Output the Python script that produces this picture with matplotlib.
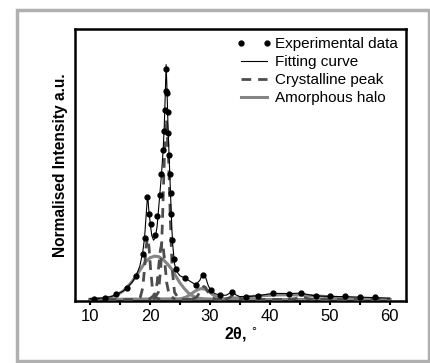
import matplotlib
matplotlib.use("Agg")
import matplotlib.pyplot as plt
from matplotlib.patches import Rectangle
from matplotlib.lines import Line2D

plt.rcParams['font.family'] = ['Liberation Sans', 'DejaVu Sans']

# experimental points (2theta, normalised intensity)
exp_x = [10.6, 12.5, 14.4, 16.2, 17.7, 18.8, 19.2, 19.55, 19.8, 20.2, 20.8, 21.2, 21.6,
         21.9, 22.2, 22.35, 22.5, 22.6, 22.7, 22.85, 22.95, 23.05, 23.15, 23.3, 23.45,
         23.55, 23.7, 24.0, 24.3, 25.9, 27.6, 28.8, 30.1, 31.7, 33.7, 36.1, 38.0, 40.6,
         43.2, 45.2, 47.7, 50.0, 52.5, 55.0, 57.6]
exp_y = [0.003, 0.008, 0.022, 0.05, 0.10, 0.19, 0.26, 0.43, 0.36, 0.32, 0.27, 0.35, 0.44,
         0.53, 0.63, 0.71, 0.80, 0.88, 0.97, 0.87, 0.79, 0.70, 0.61, 0.53, 0.45,
         0.36, 0.25, 0.17, 0.13, 0.09, 0.063, 0.105, 0.038, 0.018, 0.032, 0.012, 0.014, 0.027,
         0.025, 0.026, 0.013, 0.014, 0.016, 0.01, 0.01]

# fitting curve
fit_x = [10, 12, 13.5, 14.5, 15.5, 16.2, 17, 17.7, 18.3, 18.8, 19.1, 19.35, 19.55, 19.65,
         19.8, 20.05, 20.3, 20.6, 20.9, 21.2, 21.6, 21.9, 22.2, 22.4, 22.55, 22.7, 22.85,
         23.0, 23.2, 23.35, 23.5, 23.65, 23.8, 24.1, 24.4, 25, 25.9, 26.8, 27.6, 28.3, 28.8,
         29.2, 29.7, 30.1, 30.8, 31.7, 32.7, 33.4, 33.8, 34.3, 35, 36.1, 38, 40.5, 43.2,
         45.2, 46.5, 47.7, 50, 52.5, 55, 57.5, 60]
fit_y = [0.003, 0.006, 0.012, 0.022, 0.035, 0.05, 0.072, 0.10, 0.14, 0.20, 0.26, 0.35, 0.42, 0.43,
         0.38, 0.32, 0.27, 0.25, 0.26, 0.31, 0.43, 0.52, 0.63, 0.74, 0.86, 0.99, 0.88,
         0.74, 0.60, 0.50, 0.40, 0.30, 0.23, 0.15, 0.12, 0.10, 0.09, 0.075, 0.063, 0.08, 0.108,
         0.10, 0.06, 0.04, 0.025, 0.018, 0.018, 0.028, 0.032, 0.02, 0.012, 0.012, 0.016, 0.026, 0.025,
         0.027, 0.02, 0.015, 0.013, 0.012, 0.01, 0.008, 0.006]

# amorphous halos
halo1_x = [10, 12, 13.5, 14.5, 15.5, 16.3, 17, 17.7, 18.5, 19.2, 20, 20.8, 21.5, 22.2, 23,
           23.7, 24.4, 25, 25.7, 26.4, 27.2, 28, 29, 30, 60]
halo1_y = [0.001, 0.004, 0.01, 0.02, 0.035, 0.055, 0.075, 0.10, 0.13, 0.157, 0.176, 0.183, 0.18,
           0.168, 0.148, 0.125, 0.095, 0.07, 0.047, 0.028, 0.014, 0.006, 0.002, 0.0, 0.0]
halo2_x = [10, 25, 26, 26.8, 27.5, 28.1, 28.6, 29.2, 29.8, 30.5, 31.2, 32, 33, 60]
halo2_y = [0.0, 0.002, 0.01, 0.022, 0.035, 0.043, 0.046, 0.043, 0.034, 0.02, 0.01, 0.003, 0.0, 0.0]
halo3_x = [10, 32, 35, 38, 41, 43, 45, 48, 51, 54, 57, 60]
halo3_y = [0.0, 0.002, 0.008, 0.015, 0.019, 0.02, 0.019, 0.015, 0.009, 0.004, 0.001, 0.0]

# crystalline peaks
cryst = [
    ([10, 17.5, 18.4, 18.8, 19.1, 19.35, 19.6, 19.85, 20.1, 20.4, 20.8, 21.7],
     [0, 0, 0.01, 0.05, 0.13, 0.22, 0.26, 0.22, 0.13, 0.05, 0.01, 0]),
    ([19.8, 20.8, 21.2, 21.5, 21.75, 22.0, 22.25, 22.5, 22.8, 23.2, 24.2],
     [0, 0.02, 0.07, 0.15, 0.21, 0.24, 0.21, 0.15, 0.07, 0.02, 0]),
    ([20.6, 21.4, 21.8, 22.1, 22.4, 22.75, 23.1, 23.4, 23.7, 24.1, 24.9, 27],
     [0, 0.03, 0.13, 0.34, 0.60, 0.76, 0.60, 0.34, 0.13, 0.03, 0, 0]),
    ([27, 27.8, 28.3, 28.7, 29.0, 29.3, 29.7, 30.2, 31, 32.5],
     [0, 0.01, 0.03, 0.05, 0.055, 0.05, 0.03, 0.01, 0, 0]),
    ([32.5, 33.3, 33.7, 34.0, 34.3, 34.7, 35.5, 43],
     [0, 0.008, 0.017, 0.02, 0.017, 0.008, 0, 0]),
    ([43, 44.3, 44.9, 45.3, 45.7, 46.3, 47.5, 60],
     [0, 0.004, 0.010, 0.012, 0.010, 0.004, 0, 0]),
]

HALO = "#858585"
CRYS = "#4d4d4d"
DASH = (0, (3.5, 2.5))

fig = plt.figure(figsize=(4.31, 3.63), dpi=100)
ax = fig.add_axes([0.174, 0.171, 0.768, 0.749])

for hx, hy in [(halo1_x, halo1_y), (halo2_x, halo2_y), (halo3_x, halo3_y)]:
    ax.plot(hx, hy, color=HALO, lw=2.2, zorder=2)
for cx, cy in cryst:
    ax.plot(cx, cy, color=CRYS, lw=2.0, ls=DASH, zorder=3)
ax.plot(fit_x, fit_y, color="black", lw=0.8, zorder=4)
ax.plot(exp_x, exp_y, "o", color="black", ms=3.5, zorder=5)

ax.set_xlim(7.5, 62.7)
ax.set_ylim(-0.006, 1.14)
ax.set_xticks([10, 20, 30, 40, 50, 60])
ax.set_xticks([15, 25, 35, 45, 55], minor=True)
ax.set_yticks([])
ax.tick_params(axis="x", which="both", direction="out", length=3, width=1.5,
               labelsize=12, pad=2.5)
for s in ax.spines.values():
    s.set_linewidth(1.8)

ax.set_xlabel("2θ, $^{\\circ}$", fontsize=11.5, fontweight="bold", labelpad=1)
ax.set_ylabel("Normalised Intensity a.u.", fontsize=11.2, fontweight="bold", labelpad=5)

handles = [
    Line2D([], [], marker="o", ls="none", color="black", ms=3.5),
    Line2D([], [], color="black", lw=0.8),
    Line2D([], [], color=CRYS, lw=2.0, ls=DASH),
    Line2D([], [], color=HALO, lw=2.2),
]
ax.legend(handles, ["Experimental data", "Fitting curve", "Crystalline peak", "Amorphous halo"],
          loc="upper right", frameon=False, fontsize=11, numpoints=2, handlelength=2.3,
          handletextpad=0.2, labelspacing=0.25, borderaxespad=0.15)

fig.patches.append(Rectangle((17 / 431, 2 / 363), 412 / 431, 351 / 363, transform=fig.transFigure,
                             fill=False, edgecolor="#b0b0b0", lw=2.5))

fig.savefig("out.png", dpi=100)
